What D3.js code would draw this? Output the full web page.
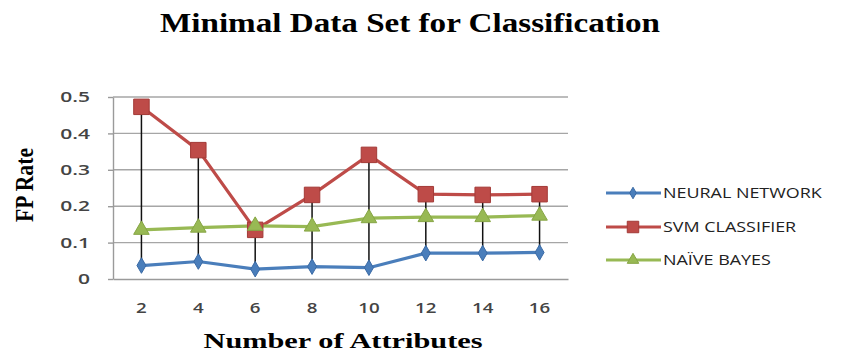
<!DOCTYPE html>
<html><head><meta charset="utf-8">
<script src="https://cdn.jsdelivr.net/npm/d3@7"></script>
<style>body{margin:0;background:#fff}svg{display:block}</style>
</head><body>
<svg id="c" width="864" height="354"></svg>
<script>
const categories = ["2","4","6","8","10","12","14","16"];
const neuralNetwork = [0.037,0.048,0.027,0.034,0.031,0.071,0.071,0.073];
const svmClassifier = [0.473,0.354,0.135,0.231,0.341,0.233,0.231,0.233];
const naiveBayes = [0.135,0.141,0.146,0.144,0.167,0.170,0.170,0.174];
const yTicks = [0,0.1,0.2,0.3,0.4,0.5];
const seriesNames = ["NEURAL NETWORK","SVM CLASSIFIER","NAÏVE BAYES"];

const series = [
  {name:seriesNames[0], values:neuralNetwork, color:"#4a7ebb", stroke:"#3a6aa5", shape:d3.symbolDiamond, size:70},
  {name:seriesNames[1], values:svmClassifier, color:"#be4b48", stroke:"#a33a37", shape:d3.symbolSquare, size:240},
  {name:seriesNames[2], values:naiveBayes, color:"#98b954", stroke:"#86a544", shape:d3.symbolTriangle, size:105}
];

const svg = d3.select("#c");
const m = {left:113, right:568, top:97, bottom:279};
const x = d3.scaleBand().domain(categories).range([m.left, m.right]);
const y = d3.scaleLinear().domain([0,0.5]).range([m.bottom, m.top]);
const cx = c => x(c) + x.bandwidth()/2;
const sansFont = "'Open Sans', sans-serif";

// gridlines
svg.append("g").selectAll("line").data(yTicks.slice(1)).join("line")
  .attr("x1", m.left).attr("x2", m.right)
  .attr("y1", d=>y(d)).attr("y2", d=>y(d))
  .attr("stroke","#a6a6a6").attr("stroke-width",1.4);

// axes
const yAx = svg.append("g").attr("transform",`translate(${m.left},0)`)
  .call(d3.axisLeft(y).tickValues(yTicks).tickSize(5).tickSizeOuter(0).tickPadding(18)
    .tickFormat(d=> d===0?"0":d3.format(".1f")(d)));
yAx.select(".domain").attr("stroke","#9a9a9a").attr("stroke-width",1.4);
yAx.selectAll(".tick line").attr("stroke","#9a9a9a").attr("stroke-width",1.4);
yAx.selectAll("text").attr("font-family",sansFont).attr("font-size",14.5).attr("font-weight",600).attr("fill","#444")
  .attr("x", -23/1.45).attr("transform","scale(1.45,1)");

const xAx = svg.append("g").attr("transform",`translate(0,${m.bottom})`)
  .call(d3.axisBottom(x).tickSize(0).tickPadding(23));
xAx.select(".domain").attr("stroke","#9a9a9a").attr("stroke-width",1.4);
xAx.selectAll("text").attr("font-family",sansFont).attr("font-size",15).attr("font-weight",600).attr("fill","#444")
  .style("transform","scaleX(1.25)").style("transform-box","fill-box").style("transform-origin","center");

// high-low lines
svg.append("g").selectAll("line").data(categories).join("line")
  .attr("x1", c=>cx(c)).attr("x2", c=>cx(c))
  .attr("y1", (c,i)=>y(d3.max(series, s=>s.values[i])))
  .attr("y2", (c,i)=>y(d3.min(series, s=>s.values[i])))
  .attr("stroke","#111").attr("stroke-width",1.5);

// lines + markers
const line = d3.line().x((d,i)=>cx(categories[i])).y(d=>y(d));
series.forEach(s=>{
  svg.append("path").datum(s.values).attr("d", line)
    .attr("fill","none").attr("stroke", s.color).attr("stroke-width",3.2);
});
series.forEach(s=>{
  svg.append("g").selectAll("path").data(s.values).join("path")
    .attr("transform",(d,i)=>`translate(${cx(categories[i])},${y(d)})`)
    .attr("d", d3.symbol().type(s.shape).size(s.size))
    .attr("fill", s.color).attr("stroke", s.stroke).attr("stroke-width",1);
});

// legend
const legY = [193,227,260];
series.forEach((s,i)=>{
  const g = svg.append("g").attr("transform",`translate(606,${legY[i]})`);
  g.append("line").attr("x1",0).attr("x2",55).attr("stroke",s.color).attr("stroke-width",3);
  g.append("path").attr("transform","translate(27,0)")
    .attr("d", d3.symbol().type(s.shape).size(s.size*0.55))
    .attr("fill", s.color).attr("stroke", s.stroke);
  const t = g.append("text").attr("x",57).attr("y",5).text(s.name)
    .attr("font-family",sansFont).attr("font-size",14).attr("fill","#222");
  const len = t.node().getComputedTextLength();
  t.attr("textLength", len*1.28).attr("lengthAdjust","spacingAndGlyphs");
});

// titles
svg.append("text").attr("x",410).attr("y",32).attr("text-anchor","middle")
  .attr("font-family","'Liberation Serif', serif").attr("font-weight","bold").attr("font-size",28)
  .attr("textLength",500).attr("lengthAdjust","spacingAndGlyphs")
  .text("Minimal Data Set for Classification");
svg.append("text").attr("x",343).attr("y",348).attr("text-anchor","middle")
  .attr("font-family","'Liberation Serif', serif").attr("font-weight","bold").attr("font-size",22)
  .attr("textLength",279).attr("lengthAdjust","spacingAndGlyphs")
  .text("Number of Attributes");
svg.append("text").attr("transform","translate(33,185) rotate(-90)").attr("text-anchor","middle")
  .attr("font-family","'Liberation Serif', serif").attr("font-weight","bold").attr("font-size",26)
  .attr("textLength",74).attr("lengthAdjust","spacingAndGlyphs")
  .text("FP Rate");
</script>
</body></html>
